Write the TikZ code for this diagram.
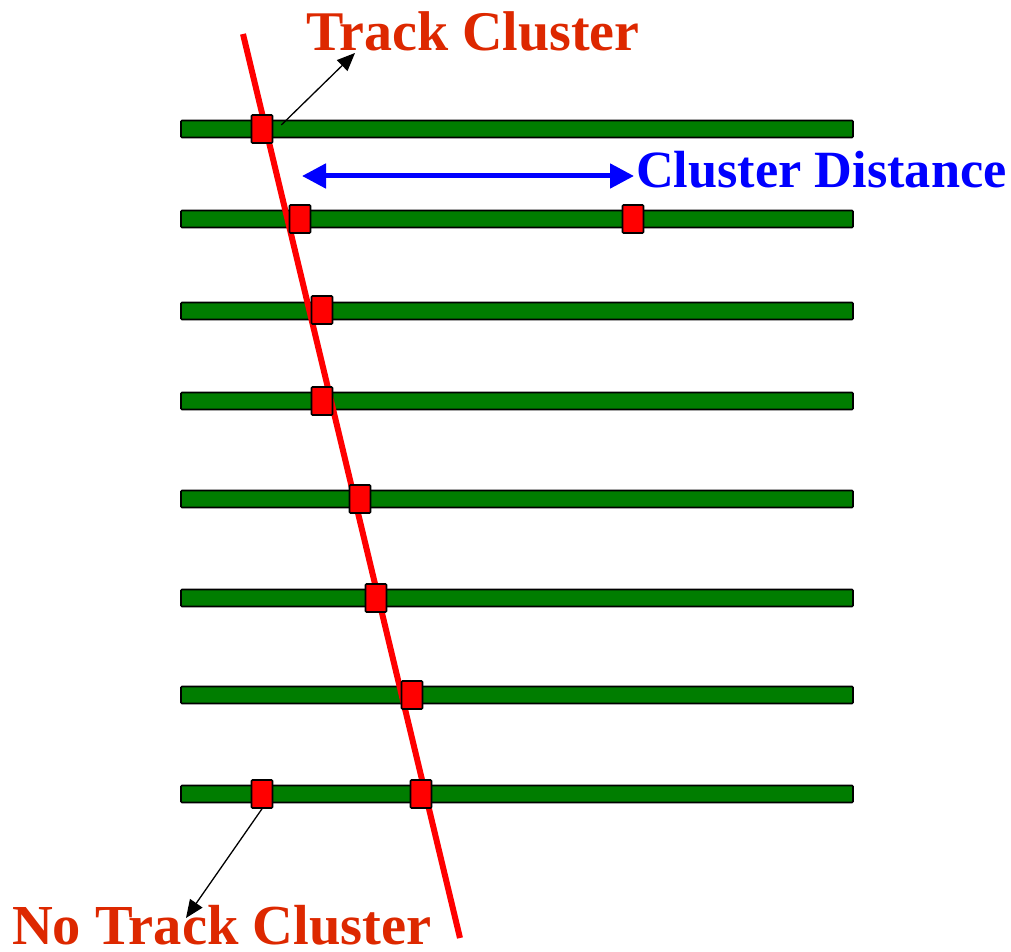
\documentclass[tikz,border=0pt]{standalone}
\usepackage{fontspec}
\setmainfont{Liberation Serif}
\usetikzlibrary{arrows.meta}
\definecolor{layergreen}{RGB}{0,125,0}
\definecolor{labelred}{RGB}{221,40,0}
\definecolor{distblue}{RGB}{0,0,255}
\begin{document}
\begin{tikzpicture}[x=1pt,y=-1pt,
  layer/.style={draw=black, line width=1.6pt, fill=layergreen, rounded corners=1pt},
  hit/.style={draw=black, line width=1.6pt, fill=red, minimum width=21pt, minimum height=28pt, inner sep=0pt, rounded corners=1pt},
  label/.style={anchor=base west, inner sep=0pt, font=\bfseries},
  pointer/.style={draw=black, line width=1.3pt, -{Triangle[length=18pt,width=15pt]}}]
\useasboundingbox (0,0) rectangle (1011,952);
% detector layers
\foreach \y in {129,219,311,401,499,598,695,794}
  \draw[layer] (181,\y-8.5) rectangle (853,\y+8.5);
% track
\coordinate (ttop) at (243,34);
\coordinate (tbot) at (460,938);
\draw[red, line width=6pt] (ttop) -- (tbot);
% clusters
\node[hit] (c1) at (262,129) {};
\node[hit] (c2) at (300,219) {};
\node[hit] (c2b) at (633,219) {};
\node[hit] (c3) at (322,310) {};
\node[hit] (c4) at (322,401) {};
\node[hit] (c5) at (360,499) {};
\node[hit] (c6) at (376,598) {};
\node[hit] (c7) at (412,695) {};
\node[hit] (c8a) at (262,794) {};
\node[hit] (c8) at (421,794) {};
% labels
\node[label, text=labelred, font=\bfseries\fontsize{56}{60}\selectfont] (tc) at (306,51) {Track Cluster};
\node[label, text=distblue, font=\bfseries\fontsize{52.3}{54}\selectfont] (cd) at (636,188) {Cluster Distance};
\node[label, text=labelred, font=\bfseries\fontsize{56.5}{58}\selectfont] (ntc) at (12,944) {No Track Cluster};
% pointers
\coordinate (tcp) at (355,53);
\coordinate (ntcp) at (186,918);
\draw[pointer] (c1.east) ++(8,-4) -- (tcp);
\draw[pointer] (c8a.south) -- (ntcp);
% cluster distance
\coordinate (dl) at (302,176);
\coordinate (dr) at (634,176);
\draw[distblue, line width=5pt, {Triangle[length=24pt,width=24pt]}-{Triangle[length=24pt,width=24pt]}] (dl) -- (dr);
\end{tikzpicture}
\end{document}
